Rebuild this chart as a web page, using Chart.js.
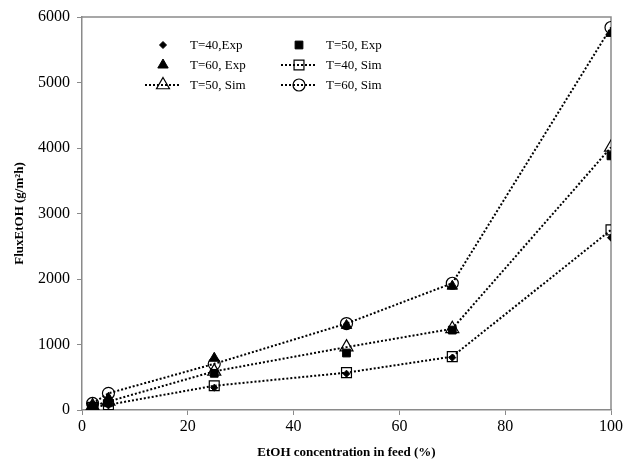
<!DOCTYPE html>
<html>
<head>
<meta charset="utf-8">
<script src="https://cdn.jsdelivr.net/npm/chart.js@4.4.1/dist/chart.umd.min.js"></script>
<style>
html,body{margin:0;padding:0;background:#fff;}
#wrap{width:625px;height:464px;position:relative;}
</style>
</head>
<body>
<div id="wrap"><canvas id="c" width="625" height="464"></canvas></div>
<script>
const concentrations = [2, 5, 25, 50, 70, 100];
const t40Exp = [30, 70, 340, 555, 800, 2630];
const t50Exp = [45, 110, 560, 870, 1220, 3880];
const t60Exp = [65, 180, 790, 1290, 1890, 5750];
const t40Sim = [40, 80, 370, 570, 815, 2750];
const t50Sim = [60, 130, 590, 960, 1240, 4010];
const t60Sim = [100, 255, 705, 1320, 1935, 5840];
const xTicks = [0, 20, 40, 60, 80, 100];
const yTicks = [0, 1000, 2000, 3000, 4000, 5000, 6000];

const SERIF = '"Liberation Serif", "DejaVu Serif", serif';
const AXIS_GRAY = '#8a8a8a';

function pts(arr) { return concentrations.map((x, i) => ({x: x, y: arr[i]})); }

const expStyle = (label, data, style, r) => ({
  label, data: pts(data), showLine: false, pointStyle: style, pointRadius: r,
  pointBackgroundColor: '#000', pointBorderColor: '#000', pointBorderWidth: 1, order: 0
});
const simStyle = (label, data, style, r) => ({
  label, data: pts(data), showLine: true, borderColor: '#000', borderWidth: 2,
  borderDash: [2, 2], pointStyle: style, pointRadius: r,
  pointBackgroundColor: 'rgba(255,255,255,0)', pointBorderColor: '#000', pointBorderWidth: 1.2,
  fill: false, tension: 0, order: 1
});

const datasets = [
  expStyle('T=40,Exp', t40Exp, 'rectRot', 3.5),
  expStyle('T=50, Exp', t50Exp, 'rect', 5.5),
  expStyle('T=60, Exp', t60Exp, 'triangle', 6),
  simStyle('T=40, Sim', t40Sim, 'rect', 7),
  simStyle('T=50, Sim', t50Sim, 'triangle', 7.5),
  simStyle('T=60, Sim', t60Sim, 'circle', 6)
];

// legend layout: [datasetIndex, column, row]
const legendLayout = [[0,0,0],[1,1,0],[2,0,1],[3,1,1],[4,0,2],[5,1,2]];

function drawMarker(ctx, style, x, y, r, filled) {
  ctx.save();
  ctx.beginPath();
  if (style === 'circle') {
    ctx.arc(x, y, r, 0, Math.PI * 2);
  } else if (style === 'rect') {
    const s = r * Math.SQRT1_2;
    ctx.rect(x - s, y - s, 2 * s, 2 * s);
  } else if (style === 'rectRot') {
    ctx.moveTo(x, y - r); ctx.lineTo(x + r, y); ctx.lineTo(x, y + r); ctx.lineTo(x - r, y); ctx.closePath();
  } else if (style === 'triangle') {
    const a = Math.PI * 2 / 3;
    ctx.moveTo(x, y - r);
    ctx.lineTo(x + Math.sin(a) * r, y - Math.cos(a) * r);
    ctx.lineTo(x + Math.sin(2 * a) * r, y - Math.cos(2 * a) * r);
    ctx.closePath();
  }
  if (filled) { ctx.fillStyle = '#000'; ctx.fill(); }
  ctx.strokeStyle = '#000'; ctx.lineWidth = filled ? 1 : 1.2; ctx.stroke();
  ctx.restore();
}

const framePlugin = {
  id: 'frame',
  beforeDatasetsDraw(chart) {
    const {ctx, chartArea: a} = chart;
    ctx.save();
    ctx.strokeStyle = AXIS_GRAY;
    ctx.lineWidth = 1.5;
    ctx.beginPath();
    ctx.moveTo(a.left, a.top); ctx.lineTo(a.right, a.top); ctx.lineTo(a.right, a.bottom);
    ctx.stroke();
    ctx.restore();
  },
  afterDraw(chart) {
    const {ctx} = chart;
    const colX = [[145, 163, 180, 190], [281, 299, 317, 326]];
    const rowY = [45, 65, 85];
    ctx.save();
    ctx.font = '13px ' + SERIF;
    ctx.fillStyle = '#000';
    ctx.textBaseline = 'middle';
    legendLayout.forEach(([di, c, r]) => {
      const ds = chart.data.datasets[di];
      const [lx0, mx, lx1, tx] = colX[c];
      const y = rowY[r];
      if (ds.showLine) {
        ctx.save();
        ctx.strokeStyle = '#000'; ctx.lineWidth = 2; ctx.setLineDash([2, 2]);
        ctx.beginPath(); ctx.moveTo(lx0, y); ctx.lineTo(lx1, y); ctx.stroke();
        ctx.restore();
      }
      drawMarker(ctx, ds.pointStyle, mx, y, ds.pointRadius, !ds.showLine);
      ctx.fillText(ds.label, tx, y + 1);
    });
    ctx.restore();
  }
};

new Chart(document.getElementById('c'), {
  type: 'scatter',
  data: { datasets },
  options: {
    responsive: false,
    animation: false,
    devicePixelRatio: 1,
    layout: { padding: { left: 0, right: 13, top: 17, bottom: 0 } },
    plugins: { legend: { display: false }, tooltip: { enabled: false } },
    scales: {
      x: {
        type: 'linear', min: 0, max: 100,
        afterFit(s) { s.height = 54; },
        afterBuildTicks(s) { s.ticks = xTicks.map(v => ({value: v})); },
        border: { color: AXIS_GRAY, width: 1.5 },
        grid: { drawOnChartArea: false, color: AXIS_GRAY, tickLength: 5, tickWidth: 1 },
        ticks: { color: '#000', font: { family: SERIF, size: 16 }, padding: 2, maxRotation: 0 },
        title: { display: true, text: 'EtOH concentration in feed (%)', color: '#000',
                 font: { family: SERIF, size: 13, weight: 'bold' }, padding: { top: 0, bottom: 4 } }
      },
      y: {
        type: 'linear', min: 0, max: 6000,
        afterFit(s) { s.width = 82; },
        afterBuildTicks(s) { s.ticks = yTicks.map(v => ({value: v})); },
        border: { color: AXIS_GRAY, width: 1.5 },
        grid: { drawOnChartArea: false, color: AXIS_GRAY, tickLength: 5, tickWidth: 1 },
        ticks: { color: '#000', font: { family: SERIF, size: 16 }, padding: 7,
                 callback: v => String(v) },
        title: { display: true, text: 'FluxEtOH (g/m\u00B2h)', color: '#000',
                 font: { family: SERIF, size: 13, weight: 'bold' }, padding: { top: 12, bottom: 0 } }
      }
    }
  },
  plugins: [framePlugin]
});
</script>
</body>
</html>
